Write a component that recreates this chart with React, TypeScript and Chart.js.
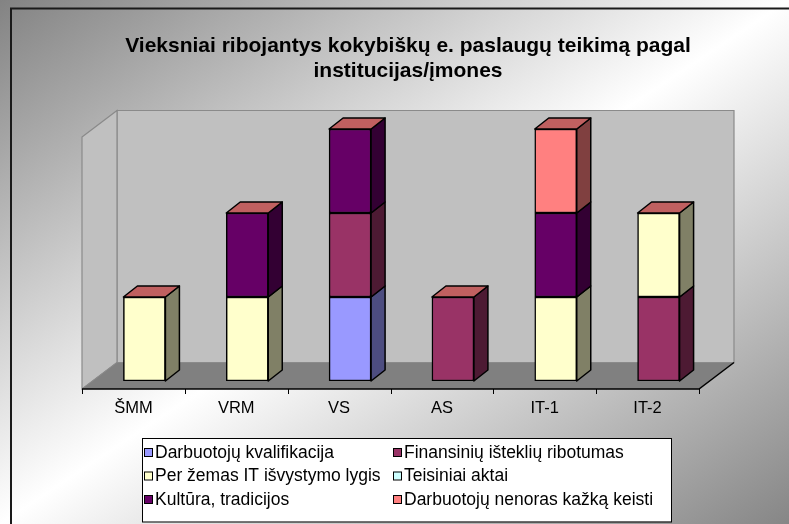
import React, { useEffect, useRef } from 'react';
import { Chart, registerables } from 'chart.js';

Chart.register(...registerables);

const categories = ['ŠMM', 'VRM', 'VS', 'AS', 'IT-1', 'IT-2'];
const titleLines = ['Vieksniai ribojantys kokybiškų e. paslaugų teikimą pagal', 'institucijas/įmones'];

const seriesNames = [
  'Darbuotojų kvalifikacija',
  'Finansinių išteklių ribotumas',
  'Per žemas IT išvystymo lygis',
  'Teisiniai aktai',
  'Kultūra, tradicijos',
  'Darbuotojų nenoras kažką keisti',
];
const kvalifikacija = [null, null, 1, null, null, null];
const finansiniai = [null, null, 1, 1, null, 1];
const itLygis = [1, 1, null, null, 1, 1];
const teisiniai = [null, null, null, null, null, null];
const kultura = [null, 1, 1, null, 1, null];
const nenoras = [null, null, null, null, 1, null];
const seriesColors = ['#9999FF', '#993366', '#FFFFCC', '#CCFFFF', '#660066', '#FF8080'];

const FONT = "'Liberation Sans', Arial, sans-serif";
const DX = 14;
const DY = 11;
const FRONT = { dx: -11, dy: 8 };
const BACK = { dx: 24, dy: -18.5 };
const TOP_FACE = '#C06060';

function darken(hex: string, f: number) {
  const n = parseInt(hex.slice(1), 16);
  const r = Math.round(((n >> 16) & 255) * f);
  const g = Math.round(((n >> 8) & 255) * f);
  const b = Math.round((n & 255) * f);
  return `rgb(${r},${g},${b})`;
}

function poly(ctx: CanvasRenderingContext2D, pts: number[][], fill: string | null, stroke: string | null, lw = 1) {
  ctx.beginPath();
  ctx.moveTo(pts[0][0], pts[0][1]);
  for (let i = 1; i < pts.length; i++) ctx.lineTo(pts[i][0], pts[i][1]);
  ctx.closePath();
  if (fill) {
    ctx.fillStyle = fill;
    ctx.fill();
  }
  if (stroke) {
    ctx.strokeStyle = stroke;
    ctx.lineWidth = lw;
    ctx.stroke();
  }
}

const scenePlugin = {
  id: 'scene3d',
  beforeDraw(chart: any) {
    const { ctx, width, height } = chart;
    const s = (2 * width * height) / (width * width + height * height);
    const g = ctx.createLinearGradient(0, 0, s * height, s * width);
    g.addColorStop(0, '#838383');
    g.addColorStop(0.5, '#ffffff');
    g.addColorStop(1, '#868686');
    ctx.save();
    ctx.fillStyle = g;
    ctx.fillRect(0, 0, width, height);
    ctx.strokeStyle = '#1a1a1a';
    ctx.lineWidth = 2;
    ctx.beginPath();
    ctx.moveTo(11, height);
    ctx.lineTo(11, 8.5);
    ctx.lineTo(width, 8.5);
    ctx.stroke();
    ctx.restore();
  },
  beforeDatasetsDraw(chart: any) {
    const { ctx, chartArea: ca } = chart;
    const xs = chart.scales.x;
    ctx.save();
    const fl = ca.left + FRONT.dx, fb = ca.bottom + FRONT.dy, ft = ca.top + FRONT.dy, fr = ca.right + FRONT.dx;
    const bl = ca.left + BACK.dx, bb = ca.bottom + BACK.dy, bt = ca.top + BACK.dy, br = ca.right + BACK.dx;
    poly(ctx, [[bl, bt], [br, bt], [br, bb], [bl, bb]], '#C0C0C0', '#8a8a8a', 1.2);
    poly(ctx, [[fl, ft], [bl, bt], [bl, bb], [fl, fb]], '#C0C0C0', '#8a8a8a', 1.2);
    poly(ctx, [[fl, fb], [bl, bb], [br, bb], [fr, fb]], '#808080', null);
    ctx.strokeStyle = '#8a8a8a';
    ctx.lineWidth = 1;
    ctx.beginPath();
    ctx.moveTo(fl, fb);
    ctx.lineTo(bl, bb);
    ctx.lineTo(br, bb);
    ctx.stroke();
    ctx.strokeStyle = '#000';
    ctx.lineWidth = 1.5;
    ctx.beginPath();
    ctx.moveTo(fl, fb);
    ctx.lineTo(fr, fb);
    ctx.lineTo(br, bb);
    ctx.stroke();
    const n = categories.length;
    const step = (xs.right - xs.left) / n;
    ctx.lineWidth = 1;
    ctx.beginPath();
    for (let k = 0; k <= n; k++) {
      const x = Math.round(fl + k * step) + 0.5;
      ctx.moveTo(x, fb);
      ctx.lineTo(x, fb + 5);
    }
    ctx.stroke();
    ctx.restore();
  },
  afterDatasetsDraw(chart: any) {
    const { ctx } = chart;
    ctx.save();
    ctx.lineJoin = 'round';
    const tops: any[] = [];
    chart.data.datasets.forEach((ds: any, di: number) => {
      const meta = chart.getDatasetMeta(di);
      meta.data.forEach((el: any, i: number) => {
        if (ds.data[i] == null) return;
        const { x, y, base, width } = el.getProps(['x', 'y', 'base', 'width'], true);
        const r = x + width / 2;
        poly(ctx, [[r, y], [r + DX, y - DY], [r + DX, base - DY], [r, base]], darken(seriesColors[di], 0.5), '#000', 1.5);
        if (!tops[i] || y < tops[i].y) tops[i] = { x, y, width };
      });
    });
    tops.forEach((t) => {
      if (!t) return;
      const l = t.x - t.width / 2;
      const r = t.x + t.width / 2;
      poly(ctx, [[l, t.y], [l + DX, t.y - DY], [r + DX, t.y - DY], [r, t.y]], TOP_FACE, '#000', 1.5);
    });
    ctx.restore();
  },
  afterDraw(chart: any) {
    const { ctx } = chart;
    ctx.save();
    const bx = 142, by = 438, bw = 529, bh = 83.5;
    ctx.fillStyle = '#ffffff';
    ctx.fillRect(bx, by, bw, bh);
    ctx.strokeStyle = '#000';
    ctx.lineWidth = 1;
    ctx.strokeRect(bx + 0.5, by + 0.5, bw, bh);
    const colX = [144, 393];
    const rowY = [452, 475.5, 499];
    ctx.font = `17.5px ${FONT}`;
    ctx.textBaseline = 'middle';
    chart.data.datasets.forEach((ds: any, di: number) => {
      const cx = colX[di % 2];
      const cy = rowY[Math.floor(di / 2)];
      ctx.fillStyle = seriesColors[di];
      ctx.fillRect(cx, cy - 4, 8, 8);
      ctx.strokeStyle = '#000';
      ctx.strokeRect(cx + 0.5, cy - 3.5, 8, 8);
      ctx.fillStyle = '#000';
      ctx.fillText(ds.label, cx + 11, cy + 1);
    });
    ctx.restore();
  },
};

export default function App() {
  const ref = useRef<HTMLCanvasElement | null>(null);
  useEffect(() => {
    document.body.style.margin = '0';
    document.body.style.overflow = 'hidden';
    const values = [kvalifikacija, finansiniai, itLygis, teisiniai, kultura, nenoras];
    const chart = new Chart(ref.current as HTMLCanvasElement, {
      type: 'bar',
      data: {
        labels: categories,
        datasets: seriesNames.map((name, i) => ({
          label: name,
          data: values[i],
          backgroundColor: seriesColors[i],
          borderColor: '#000',
          borderWidth: 1.5,
          borderSkipped: false,
          barThickness: 42,
        })),
      },
      options: {
        responsive: false,
        animation: false,
        layout: { padding: { left: 93, right: 66, top: 0, bottom: 103 } },
        plugins: {
          legend: { display: false },
          tooltip: { enabled: false },
          title: {
            display: true,
            text: titleLines,
            color: '#000',
            font: { family: FONT, size: 21, weight: 'bold', lineHeight: 1.2 },
            padding: { top: 33.5, bottom: 45.1 },
          },
        },
        scales: {
          x: {
            stacked: true,
            grid: { display: false, drawTicks: false },
            border: { display: false },
            ticks: { color: '#000', font: { family: FONT, size: 16.5 }, padding: 18, labelOffset: -11 },
            afterFit: (s: any) => { s.height = 40; },
          },
          y: {
            stacked: true,
            position: 'right',
            min: 0,
            max: 3,
            grid: { display: false, drawTicks: false },
            border: { display: false },
            ticks: { display: false },
            afterFit: (s: any) => { s.width = 13; },
          },
        },
      },
      plugins: [scenePlugin],
    } as any);
    return () => chart.destroy();
  }, []);
  return (
    <div style={{ width: 789, height: 524 }}>
      <canvas ref={ref} width={789} height={524} style={{ display: 'block' }} />
    </div>
  );
}
